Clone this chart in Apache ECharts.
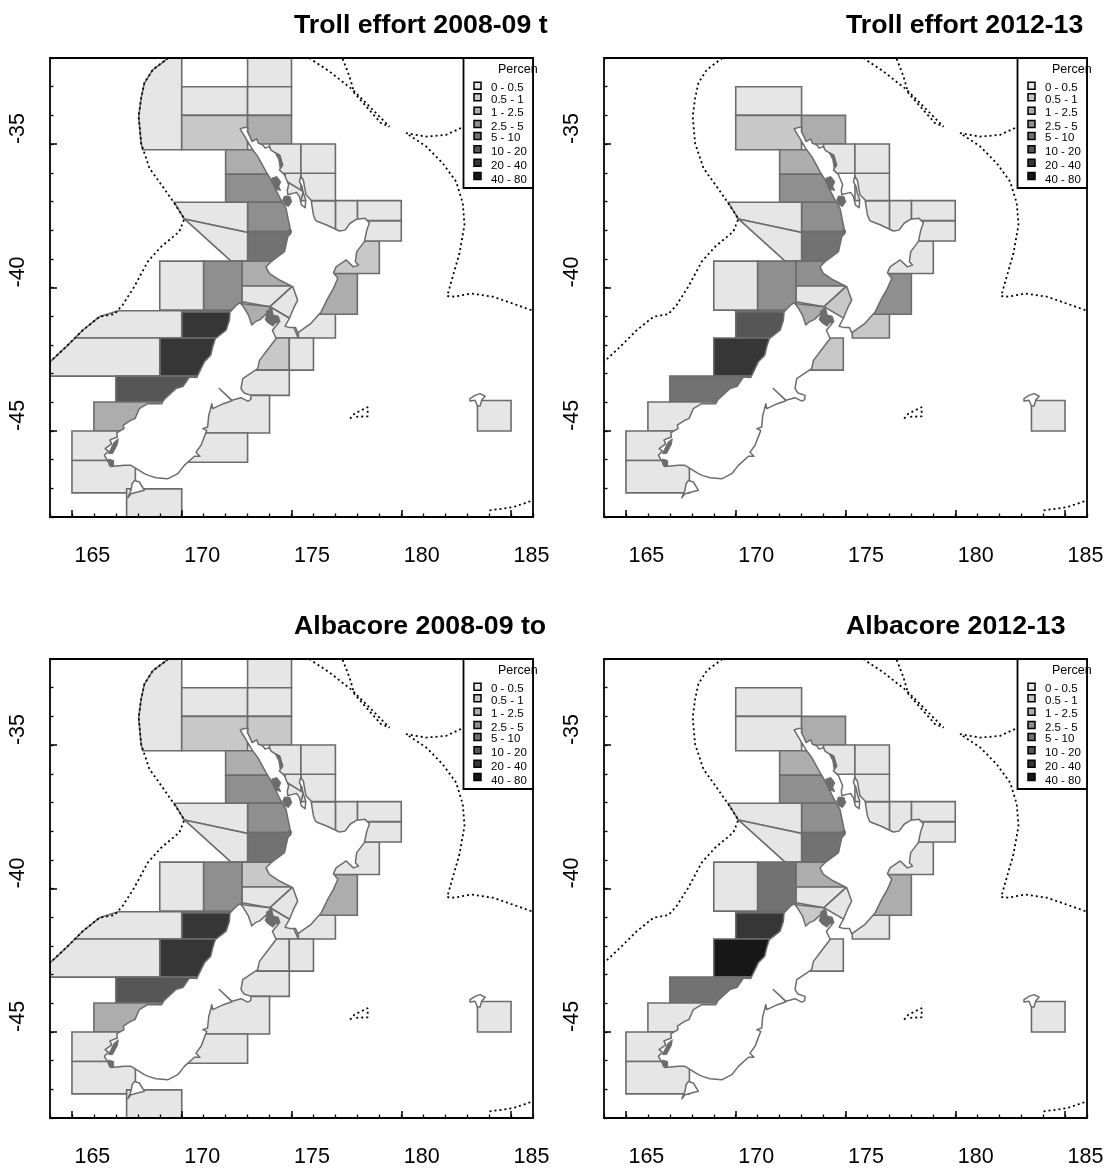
<!DOCTYPE html>
<html><head><meta charset="utf-8">
<style>html,body{margin:0;padding:0;background:#fff}#c{width:1110px;height:1169px}</style>
<script src="https://cdn.jsdelivr.net/npm/echarts@6/dist/echarts.min.js"></script>
</head><body><div id="c"></div>
<script>
const titles = ["Troll effort 2008-09 t", "Troll effort 2012-13", "Albacore 2008-09 to", "Albacore 2012-13"];
const xTicks = [165,170,175,180,185];
const yTicks = [-35,-40,-45];
const legendLabels = ["0 - 0.5","0.5 - 1","1 - 2.5","2.5 - 5","5 - 10","10 - 20","20 - 40","40 - 80"];
const grays = ["#e6e6e6","#c8c8c8","#adadad","#8f8f8f","#727272","#565656","#363636","#171717"];
const box = (w,e,n,s) => [[w,n],[e,n],[e,s],[w,s]];

// statistical areas, lon/lat
const cellShapes = [
 [[170,-32],[170,-35.2],[168.22,-35.2],[168.15,-34.97],[168.04,-34.04],[168.15,-33.40],[168.30,-32.87],[168.68,-32.41],[169.39,-32]],
 box(173,175,-32,-33), box(170,173,-33,-34), box(173,175,-33,-34), box(170,173,-34,-35.2), box(173,175,-34,-35),
 [[172,-35.2],[173.57,-35.2],[174.17,-36.05],[172,-36.05]],
 [[172,-36.05],[174.17,-36.05],[174.78,-37.03],[172,-37.03]],
 box(173,175.3,-37.03,-38.05), box(173,175.3,-38.05,-39.08),
 [[169.66,-37.03],[173,-37.03],[173,-38.08],[170.12,-37.61]],
 [[170.12,-37.61],[173,-38.08],[173,-39.08],[172.25,-39.08]],
 box(169,171,-39.08,-40.79),
 [[171,-39.08],[172.75,-39.08],[172.75,-40.5],[172.43,-40.79],[171,-40.79]],
 [[172.75,-39.08],[174.48,-39.08],[175.05,-39.95],[172.75,-39.95]],
 [[172.75,-39.95],[175.05,-39.95],[174.02,-40.67],[172.75,-40.5]],
 [[175.05,-39.95],[175.39,-40.38],[174.93,-41.08],[174.02,-40.67]],
 [[172.66,-40.56],[174.02,-40.67],[174.1,-41.4],[172.7,-41.4]],
 [[174.02,-40.67],[174.93,-41.08],[175.31,-41.76],[174.17,-41.76]],
 box(175.31,177,-40.93,-41.76),
 [[176.76,-39.51],[178,-39.51],[178,-40.93],[176,-40.93]],
 [[177.82,-38.38],[179,-38.38],[179,-39.51],[176.76,-39.51]],
 box(178.3,180,-37.67,-38.38), box(178,180,-36.97,-37.67), box(177,178,-36.97,-38.34),
 [[175.92,-36.97],[177,-36.97],[177,-38.34],[175.7,-38.34]],
 box(175.43,177,-36.02,-36.97), box(174.71,175.43,-36.02,-36.97), box(174,175.43,-35,-36.02), box(175.43,177,-35,-36.02),
 box(170,172.3,-40.85,-41.76),
 [[167.11,-40.81],[170,-40.81],[170,-41.76],[165.14,-41.76],[165.49,-41.49],[166.25,-41.02]],
 box(169,172,-41.76,-43.09),
 [[165.14,-41.76],[169,-41.76],[169,-43.09],[164,-43.09],[164,-42.59],[164.73,-42.07]],
 box(167,171,-43.09,-43.99), box(166,169,-43.99,-45), box(165,167.5,-45,-46.03), box(165,167.89,-46.03,-47.16), box(167.49,170,-47.02,-48),
 box(173.26,174.9,-41.76,-42.88), box(174.9,176,-41.76,-42.88), box(172.5,174.9,-42.88,-43.76), box(170.83,174,-43.76,-45.07), box(170,173,-45.07,-46.09),
 box(183.47,185,-43.94,-45),
 [[174.86,-36.34],[175.54,-36.66],[175.43,-36.97],[174.71,-36.97]]
];
// percentage class of each area, -1 where the area is not drawn
const classesTroll0813 = [0,0,0,0,1,2,2,3,3,4,0,0,0,3,2,0,0,2,0,0,2,1,0,0,0,0,0,0,0,0,6,0,6,0,5,2,0,0,0,1,0,0,0,0,0,0];
const classesTroll1213 = [-1,-1,0,-1,1,2,2,3,3,4,0,0,0,3,3,0,1,2,-1,1,3,0,0,0,0,0,0,-1,0,0,5,-1,6,-1,4,0,0,0,-1,1,-1,-1,-1,-1,0,-1];
const classesAlb0813   = [0,0,0,0,1,1,2,3,3,4,0,0,0,3,1,0,0,0,0,0,2,0,0,0,0,0,0,0,0,0,6,0,6,0,5,2,0,0,0,0,0,0,0,0,0,0];
const classesAlb1213   = [-1,-1,0,-1,0,2,2,3,3,4,0,0,0,4,2,0,0,1,-1,0,2,0,0,0,0,0,0,-1,0,0,6,-1,7,-1,4,0,0,0,-1,0,-1,-1,-1,-1,0,-1];
const panelClasses = [classesTroll0813, classesTroll1213, classesAlb0813, classesAlb1213];

const northIsland = [[172.66,-34.47],[172.85,-34.42],[173.01,-34.42],[172.99,-34.56],[173.11,-34.74],[173.20,-34.91],[173.42,-34.82],[173.49,-34.97],[173.69,-35.03],[173.80,-35.14],[173.99,-35.09],[174.08,-35.22],[174.17,-35.26],[174.42,-35.38],[174.51,-35.55],[174.60,-35.73],[174.45,-35.90],[174.68,-36.07],[174.78,-36.25],[174.87,-36.42],[174.81,-36.60],[174.83,-36.77],[175.09,-36.71],[175.24,-36.69],[175.36,-36.83],[175.45,-37.12],[175.62,-37.22],[175.65,-36.95],[175.54,-36.71],[175.48,-36.48],[175.36,-36.31],[175.42,-36.13],[175.54,-36.25],[175.59,-36.48],[175.66,-36.77],[175.89,-36.95],[176.00,-37.47],[176.09,-37.65],[176.19,-37.70],[176.60,-37.82],[177.18,-38.03],[177.44,-38.00],[177.67,-37.76],[177.97,-37.62],[178.35,-37.59],[178.55,-37.74],[178.43,-38.00],[178.32,-38.40],[177.97,-38.75],[177.91,-39.10],[178.05,-39.22],[177.82,-39.28],[177.49,-39.04],[177.03,-39.28],[176.91,-39.49],[177.11,-39.68],[176.91,-40.03],[176.65,-40.38],[176.35,-40.85],[175.89,-41.25],[175.28,-41.58],[175.18,-41.39],[174.90,-41.39],[174.71,-41.35],[174.90,-41.08],[175.09,-40.73],[175.28,-40.44],[175.06,-39.97],[174.45,-39.74],[173.99,-39.51],[173.84,-39.28],[174.07,-39.10],[174.68,-38.75],[174.83,-38.23],[174.98,-38.09],[174.87,-37.70],[174.75,-37.24],[174.52,-36.95],[174.07,-36.25],[173.84,-35.96],[173.46,-35.43],[173.23,-35.20],[172.96,-34.85]];
const southIsland = [[172.66,-40.53],[172.81,-40.67],[173.04,-40.96],[173.19,-41.31],[173.34,-41.20],[173.57,-41.12],[173.87,-40.91],[174.17,-40.98],[174.40,-41.25],[174.13,-41.49],[174.30,-41.78],[173.84,-42.24],[173.54,-42.54],[173.46,-42.83],[172.78,-43.18],[172.70,-43.52],[172.84,-43.68],[173.16,-43.76],[173.14,-43.91],[173.01,-43.96],[172.70,-43.84],[172.29,-43.93],[171.71,-43.52],[172.29,-43.95],[171.90,-44.05],[171.41,-44.22],[171.37,-44.05],[171.29,-44.30],[171.23,-44.46],[171.18,-44.86],[170.96,-44.92],[171.14,-44.98],[170.88,-45.50],[170.65,-45.74],[170.83,-45.88],[170.58,-45.88],[170.12,-46.20],[169.82,-46.49],[169.36,-46.67],[168.83,-46.63],[168.48,-46.55],[168.30,-46.49],[167.99,-46.34],[167.69,-46.20],[167.39,-46.20],[166.78,-46.24],[166.63,-46.05],[166.48,-45.85],[166.66,-45.70],[166.51,-45.62],[166.81,-45.45],[166.73,-45.31],[167.07,-45.21],[167.04,-45.07],[167.37,-44.92],[167.34,-44.80],[167.67,-44.63],[167.87,-44.57],[168.07,-44.22],[168.45,-44.05],[169.09,-44.05],[169.19,-43.91],[169.74,-43.52],[170.07,-43.44],[170.35,-43.12],[170.68,-43.14],[171.03,-42.59],[171.32,-42.36],[171.41,-42.07],[171.53,-41.78],[172.02,-41.49],[172.17,-41.14],[172.20,-40.85],[172.50,-40.61]];
const stewartIsland = [[167.84,-46.73],[168.07,-46.78],[168.30,-47.07],[167.99,-47.13],[167.69,-47.19],[167.54,-47.33],[167.69,-47.07],[167.74,-46.84]];
const chathamIslands = [[183.13,-43.87],[183.36,-43.76],[183.59,-43.70],[183.82,-43.79],[183.67,-43.91],[183.59,-44.13],[183.47,-44.13],[183.36,-43.93],[183.13,-43.96]];
const landShapes = [northIsland, southIsland, stewartIsland, chathamIslands];
const kaiparaHarbour = [[174.10,-36.19],[174.33,-36.13],[174.51,-36.31],[174.42,-36.48],[174.51,-36.62],[174.25,-36.56],[174.17,-36.39]];
const manukauHarbour = [[174.68,-36.81],[174.93,-36.83],[175.01,-37.01],[174.86,-37.18],[174.71,-37.12],[174.60,-36.95]];
const raglanHarbour = [[174.86,-37.97],[175.01,-38.02],[174.93,-38.17]];
const marlboroughSounds = [[173.87,-40.81],[174.10,-40.73],[174.17,-40.96],[174.40,-41.00],[174.48,-41.20],[174.25,-41.25],[174.17,-41.35],[173.95,-41.25],[173.80,-41.12],[173.87,-40.96]];
const fiordSouth = [[166.66,-45.98],[166.90,-46.03],[166.90,-46.20],[166.70,-46.22]];
const fiordNorth = [[166.66,-45.79],[166.92,-45.39],[167.11,-45.27],[167.07,-45.47],[166.85,-45.79]];
const bayOfIslands = [[174.25,-35.29],[174.48,-35.38],[174.60,-35.73],[174.48,-35.84],[174.42,-35.55]];
const coastBlobs = [kaiparaHarbour, manukauHarbour, raglanHarbour, marlboroughSounds, fiordSouth, fiordNorth, bayOfIslands];

const eezWest = [[169.39,-32],[168.68,-32.41],[168.30,-32.87],[168.15,-33.40],[168.04,-34.04],[168.15,-34.97],[168.53,-35.84],[169.13,-36.48],[169.66,-37.06],[170.12,-37.61],[169.89,-38.05],[169.06,-38.58],[168.45,-39.10],[167.84,-39.97],[167.31,-40.61],[166.93,-40.93],[166.25,-41.02],[165.49,-41.49],[164.73,-42.07],[164,-42.59]];
const eezNorthA = [[175.81,-32],[176.73,-32.47],[177.79,-33.11],[178.55,-33.69],[179.46,-34.39]];
const eezNorthB = [[177.33,-32.03],[177.64,-32.64],[177.86,-33.22],[178.40,-33.69],[179.08,-34.27],[179.46,-34.39]];
const eezEast = [[182.72,-34.44],[182.04,-34.68],[181.13,-34.74],[180.22,-34.62],[181.13,-35.08],[181.89,-35.67],[182.50,-36.31],[182.80,-37.06],[182.88,-37.82],[182.65,-38.81],[182.34,-39.63],[182.09,-40.30],[182.42,-40.32],[183.18,-40.21],[184.17,-40.32],[185.08,-40.56],[186,-40.81]];
const eezSouth = [[184.02,-47.77],[185.08,-47.66],[186,-47.42]];
const eezBounty = [[177.67,-44.57],[177.86,-44.40],[178.47,-44.17],[178.47,-44.49],[177.86,-44.51]];
const eezLines = [eezWest, eezNorthA, eezNorthB, eezEast, eezSouth, eezBounty];

const FONT = '"Liberation Sans", Arial, sans-serif';
const GRID_W = 483, GRID_H = 459;
const panels = [[50,58],[604,58],[50,659],[604,659]];
const STROKE = '#6c6c6c';

const grid = [], xAxis = [], yAxis = [], series = [], title = [], graphic = [];
const polyRender = (shapes, styleOf) => (params, api) => {
  const i = api.value(0);
  return { type:'polygon', shape:{ points: shapes[i].map(p => api.coord(p)) }, style: styleOf(i, api) };
};

panels.forEach((pos, k) => {
  const [L, T] = pos;
  grid.push({ left:L, top:T, width:GRID_W, height:GRID_H, show:false, containLabel:false });
  const base = { gridIndex:k, type:'value', min:164, max:186, splitLine:{show:false}, z:5, silent:true };
  const lineOn = { show:true, lineStyle:{color:'#000', width:1.8} };
  xAxis.push(
    { ...base, position:'bottom', interval:1, axisLine:lineOn,
      axisTick:{ show:true, inside:true, length:7, customValues:xTicks, lineStyle:{color:'#000', width:1.5} },
      axisLabel:{ show:true, customValues:xTicks, align:'left', verticalAlign:'top', margin:28.5, padding:[0,0,0,2.5], fontFamily:FONT, fontSize:21.5, color:'#000', showMinLabel:true, showMaxLabel:true } },
    { ...base, position:'bottom', interval:1, axisLine:{show:false}, axisLabel:{show:false},
      axisTick:{ show:true, inside:true, length:3.5, lineStyle:{color:'#000', width:1.3} } },
    { ...base, position:'top', interval:1, axisLine:lineOn, axisLabel:{show:false}, axisTick:{show:false} }
  );
  const ybase = { ...base, min:-48, max:-32 };
  yAxis.push(
    { ...ybase, position:'left', interval:1, axisLine:lineOn,
      axisTick:{ show:true, inside:true, length:7, customValues:yTicks, lineStyle:{color:'#000', width:1.5} },
      axisLabel:{ show:true, customValues:yTicks, rotate:90, align:'left', verticalAlign:'bottom', margin:21, fontFamily:FONT, fontSize:21.5, color:'#000' } },
    { ...ybase, position:'left', interval:1, axisLine:{show:false}, axisLabel:{show:false},
      axisTick:{ show:true, inside:true, length:3.5, lineStyle:{color:'#000', width:1.3} } },
    { ...ybase, position:'right', interval:1, axisLine:lineOn, axisLabel:{show:false}, axisTick:{show:false} }
  );
  const ax = { xAxisIndex:k*3, yAxisIndex:k*3, animation:false, silent:true, clip:true };
  const cls = panelClasses[k];
  series.push({ ...ax, type:'custom', z:2,
    data: cellShapes.map((_, i) => [i]).filter(d => cls[d[0]] >= 0),
    renderItem: polyRender(cellShapes, i => ({ fill:grays[cls[i]], stroke:STROKE, lineWidth:1.6 })) });
  series.push({ ...ax, type:'custom', z:3,
    data: landShapes.map((_, i) => [i]),
    renderItem: polyRender(landShapes, () => ({ fill:'#fff', stroke:STROKE, lineWidth:1.5, lineJoin:'round' })) });
  series.push({ ...ax, type:'custom', z:3,
    data: coastBlobs.map((_, i) => [i]),
    renderItem: polyRender(coastBlobs, () => ({ fill:STROKE, stroke:STROKE, lineWidth:1 })) });
  eezLines.forEach(line => series.push({ ...ax, type:'line', z:4, data:line, symbol:'none', smooth:false,
    lineStyle:{ color:'#000', width:1.8, type:[2,3] } }));
  title.push({ text:titles[k], left:(k % 2) ? L + 242 : L + 244, top:T-46, padding:0,
    textStyle:{ fontFamily:FONT, fontSize:26.7, fontWeight:'bold', color:'#000' } });
  // legend box
  const bx = L + 413.5, by = T;
  graphic.push({ type:'rect', z:50, shape:{ x:bx, y:by, width:69.5, height:130 }, style:{ fill:'#fff', stroke:'#000', lineWidth:1.8 } });
  graphic.push({ type:'text', z:51, x:bx+34.5, y:by+12, style:{ text:'Percen', fontFamily:FONT, fontSize:12.5, fill:'#000', textVerticalAlign:'middle' } });
  const ty = [29.7,42,55.3,68.7,80,94.3,107.7,122];
  const sy = [27.7,39.3,52.7,66,78,91.3,104.7,118];
  legendLabels.forEach((lab, i) => {
    graphic.push({ type:'rect', z:51, shape:{ x:bx+10.5, y:by+sy[i]-3.5, width:7, height:7 }, style:{ fill:grays[i], stroke:'#000', lineWidth:1.5 } });
    graphic.push({ type:'text', z:51, x:bx+27.5, y:by+ty[i], style:{ text:lab, fontFamily:FONT, fontSize:11.5, fill:'#000', textVerticalAlign:'middle' } });
  });
});

const chart = echarts.init(document.getElementById('c'), null, { renderer:'canvas' });
chart.setOption({ backgroundColor:'#fff', animation:false, title, grid, xAxis, yAxis, series, graphic:{ elements:graphic }, tooltip:{show:false} });
</script></body></html>
